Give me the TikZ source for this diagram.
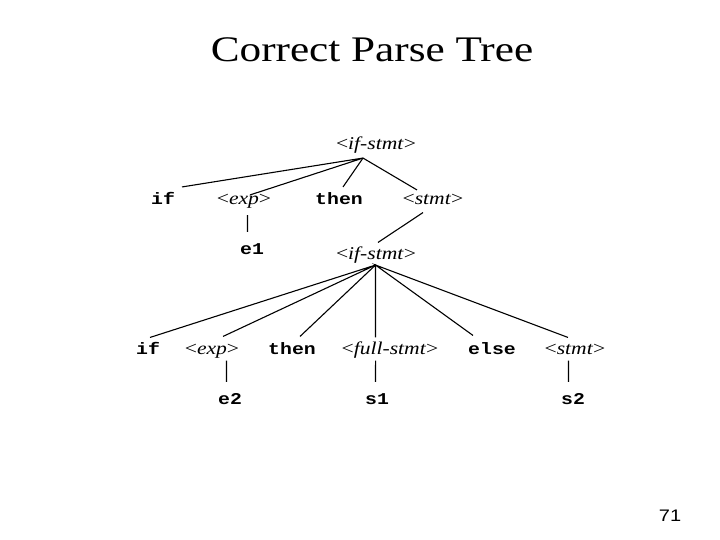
\documentclass[tikz,border=0pt]{standalone}
\usepackage{fontspec}
\setmainfont[FakeStretch=1.2]{Liberation Serif}
\setsansfont[FakeStretch=1.2]{Liberation Sans}
\setmonofont[FakeStretch=1.2]{Liberation Mono}
\newcommand{\nterm}[1]{<\textit{#1}>}

\begin{document}
\begin{tikzpicture}[x=1bp, y=-1bp, line width=1.1bp,
    term/.style={font=\fontsize{16.5bp}{18bp}\selectfont\ttfamily\bfseries, inner sep=0pt, text height=12bp, text depth=3bp},
    nonterm/.style={font=\fontsize{18bp}{20bp}\selectfont, inner sep=0pt, text height=12bp, text depth=3bp},
    stem/.style={shorten >=10bp}]
  \useasboundingbox (0,0) rectangle (720,540);
  \node[font=\fontsize{36bp}{40bp}\selectfont] (title) at (372,50) {Correct Parse Tree};
  \node[nonterm] (root) at (376,145) {\nterm{if-stmt}};
  \node[term] (if1) at (163,200) {if};
  \node[nonterm] (exp1) at (244,200) {\nterm{exp}};
  \node[term] (then1) at (339,200) {then};
  \node[nonterm] (stmt1) at (433,200) {\nterm{stmt}};
  \node[term] (e1) at (252,250) {e1};
  \node[nonterm] (ifs2) at (376,255) {\nterm{if-stmt}};
  \node[term] (if2) at (148,350) {if};
  \node[nonterm] (exp2) at (212,350) {\nterm{exp}};
  \node[term] (then2) at (292,350) {then};
  \node[nonterm] (full2) at (390,350) {\nterm{full-stmt}};
  \node[term] (else2) at (492,350) {else};
  \node[nonterm] (stmt2) at (575,350) {\nterm{stmt}};
  \node[term] (e2) at (230,400) {e2};
  \node[term] (s1) at (377,400) {s1};
  \node[term] (s2) at (573,400) {s2};
  \node[font=\fontsize{16.7bp}{18bp}\selectfont\sffamily] (page) at (670,516) {71};
  \draw ([shift={(19,-5)}]if1.north) -- ([shift={(-13,5)}]root.south) -- ([shift={(6,3)}]exp1.north);
  \draw ([shift={(4,-5)}]then1.north) -- ([shift={(-13,5)}]root.south) -- ([shift={(-16,-2)}]stmt1.north);
  \draw[stem, shorten <=7bp] ([xshift=3.5]exp1.south) -- ([xshift=-4.5]e1.north);
  \draw ([shift={(-10,4.5)}]stmt1.south) -- ([shift={(2,-4.5)}]ifs2.north);
  \draw ([shift={(2,-4.5)}]if2.north) -- ([shift={(-0.5,2)}]ifs2.south) -- ([shift={(11,-5.5)}]exp2.north);
  \draw ([shift={(8,-5.5)}]then2.north) -- ([shift={(-0.5,2)}]ifs2.south) -- ([shift={(-14.5,-4.5)}]full2.north);
  \draw ([shift={(-19,-6.5)}]else2.north) -- ([shift={(-0.5,2)}]ifs2.south) -- ([shift={(-7,-4.5)}]stmt2.north);
  \draw[stem, shorten <=2.5bp] ([xshift=14.5]exp2.south) -- ([xshift=-3.5]e2.north);
  \draw[stem, shorten <=2.5bp] ([xshift=-14.5]full2.south) -- ([xshift=-1.5]s1.north);
  \draw[stem, shorten <=2.5bp] ([xshift=-6.5]stmt2.south) -- ([xshift=-4.5]s2.north);
\end{tikzpicture}
\end{document}
